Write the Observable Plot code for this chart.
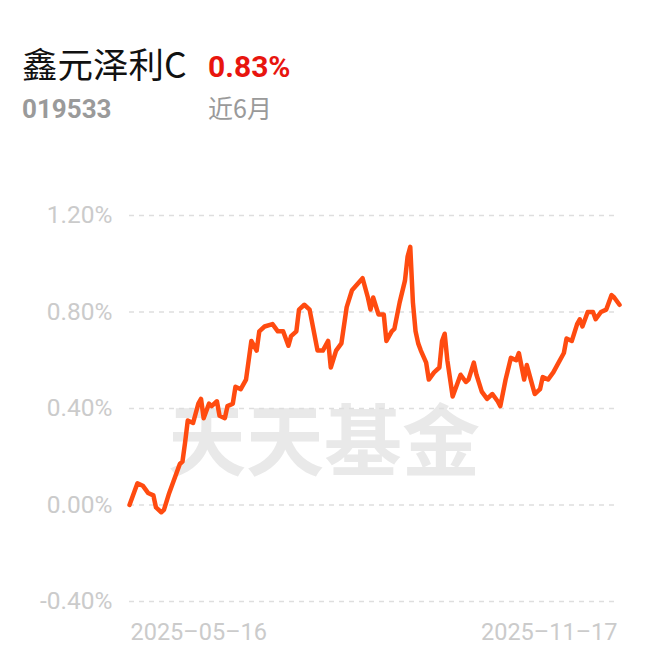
<!DOCTYPE html>
<html>
<head>
<meta charset="utf-8">
<script src="https://cdn.jsdelivr.net/npm/d3@7"></script>
<script src="https://cdn.jsdelivr.net/npm/@observablehq/plot@0.6"></script>
<style>
  html, body { margin: 0; padding: 0; background: #fff; }
  #page { position: relative; width: 652px; height: 657px; overflow: hidden; }
  #bg, #header { position: absolute; left: 0; top: 0; }
  #chart { position: absolute; left: 0; top: 180px; }
</style>
</head>
<body>
<div id="page">
  <svg id="bg" width="652" height="657">
    <text x="324" y="470" text-anchor="middle" font-family="'Noto Sans CJK SC', sans-serif" font-weight="700" font-size="78" fill="#e9e9e9">天天基金</text>
  </svg>
  <svg id="header" width="652" height="140">
    <text x="22" y="78" font-family="'Noto Sans CJK SC', Roboto, sans-serif" font-size="35.5" fill="#111">鑫元泽利C</text>
    <text x="208" y="77" font-family="Roboto, sans-serif" font-weight="700" font-size="30" fill="#e8150e">0.83%</text>
    <text x="22" y="118" font-family="Roboto, sans-serif" font-weight="700" font-size="26" fill="#9a9a9a">019533</text>
    <text x="208" y="118" font-family="'Noto Sans CJK SC', Roboto, sans-serif" font-size="25" fill="#9a9a9a">近6月</text>
  </svg>
  <div id="chart"></div>
</div>
<script>
const dates = [
  "2025-05-16","2025-05-19","2025-05-21","2025-05-23","2025-05-25","2025-05-26","2025-05-28","2025-05-29","2025-05-31",
  "2025-06-02","2025-06-04","2025-06-05","2025-06-06","2025-06-07","2025-06-09","2025-06-11","2025-06-12","2025-06-13",
  "2025-06-15","2025-06-16","2025-06-18","2025-06-19","2025-06-21","2025-06-22","2025-06-24","2025-06-25","2025-06-27",
  "2025-06-29","2025-07-01","2025-07-03","2025-07-04","2025-07-06","2025-07-09","2025-07-11","2025-07-13","2025-07-15",
  "2025-07-16","2025-07-18","2025-07-19","2025-07-21","2025-07-23","2025-07-26","2025-07-28","2025-07-30","2025-07-31",
  "2025-08-02","2025-08-04","2025-08-06","2025-08-08","2025-08-12","2025-08-14","2025-08-15","2025-08-16","2025-08-18",
  "2025-08-20","2025-08-21","2025-08-23","2025-08-24","2025-08-26","2025-08-28","2025-08-29","2025-08-30","2025-08-31",
  "2025-09-01","2025-09-02","2025-09-03","2025-09-05","2025-09-06","2025-09-08","2025-09-10","2025-09-11","2025-09-12",
  "2025-09-13","2025-09-15","2025-09-17","2025-09-18","2025-09-20","2025-09-21","2025-09-23","2025-09-24","2025-09-26",
  "2025-09-28","2025-09-30","2025-10-02","2025-10-03","2025-10-05","2025-10-07","2025-10-09","2025-10-10","2025-10-12",
  "2025-10-13","2025-10-15","2025-10-16","2025-10-18","2025-10-19","2025-10-21","2025-10-23","2025-10-25","2025-10-27",
  "2025-10-28","2025-10-30","2025-11-01","2025-11-02","2025-11-03","2025-11-05","2025-11-07","2025-11-08","2025-11-10",
  "2025-11-12","2025-11-14","2025-11-15","2025-11-17"
];
const returns = [
  0.00, 0.09, 0.08, 0.05, 0.04, -0.01, -0.03, -0.02, 0.05,
  0.11, 0.17, 0.18, 0.26, 0.35, 0.34, 0.42, 0.44, 0.36,
  0.42, 0.41, 0.43, 0.37, 0.36, 0.41, 0.42, 0.49, 0.48,
  0.52, 0.68, 0.64, 0.72, 0.74, 0.75, 0.72, 0.72, 0.66,
  0.70, 0.72, 0.81, 0.83, 0.81, 0.64, 0.64, 0.68, 0.57,
  0.64, 0.67, 0.82, 0.89, 0.94, 0.86, 0.81, 0.86, 0.79,
  0.79, 0.68, 0.72, 0.73, 0.84, 0.93, 1.03, 1.07, 0.84,
  0.72, 0.67, 0.64, 0.59, 0.52, 0.55, 0.57, 0.68, 0.71,
  0.60, 0.45, 0.51, 0.54, 0.51, 0.52, 0.59, 0.54, 0.47,
  0.44, 0.46, 0.43, 0.41, 0.52, 0.61, 0.60, 0.63, 0.52,
  0.58, 0.50, 0.46, 0.48, 0.53, 0.52, 0.55, 0.59, 0.63,
  0.69, 0.68, 0.75, 0.77, 0.74, 0.80, 0.80, 0.77, 0.80,
  0.81, 0.87, 0.86, 0.83
];
const yTicks = [-0.4, 0, 0.4, 0.8, 1.2];
const xTickLabels = ["2025-05-16", "2025-11-17"];

const parse = d3.utcParse("%Y-%m-%d");
const data = dates.map((d, i) => ({date: parse(d), value: returns[i]}));
const fmtY = v => (v < 0 ? "-" : "") + Math.abs(v).toFixed(2) + "%";
const fmtX = s => s.replace(/-/g, "\u2013");

const chart = Plot.plot({
  width: 652,
  height: 477,
  marginLeft: 129,
  marginRight: 33,
  marginTop: 35,
  marginBottom: 56,
  style: {fontFamily: "Roboto, 'Noto Sans CJK SC', sans-serif", background: "transparent", overflow: "visible"},
  x: {type: "utc", domain: [parse(xTickLabels[0]), parse(xTickLabels[1])], axis: null},
  y: {domain: [-0.4, 1.2], axis: null},
  marks: [
    Plot.ruleY(yTicks, {stroke: "#dedede", strokeWidth: 1.5, strokeDasharray: "5,5"}),
    Plot.text(yTicks, {y: d => d, text: fmtY, frameAnchor: "left", textAnchor: "end", dx: -17, fontSize: 24.5, fill: "#cbcbcb"}),
    Plot.text([xTickLabels[0]], {x: d => parse(d), text: fmtX, frameAnchor: "bottom", textAnchor: "start", lineAnchor: "middle", dy: 31, dx: 1, fontSize: 23.5, fill: "#cbcbcb"}),
    Plot.text([xTickLabels[1]], {x: d => parse(d), text: fmtX, frameAnchor: "bottom", textAnchor: "end", lineAnchor: "middle", dy: 31, dx: -2, fontSize: 23.5, fill: "#cbcbcb"}),
    Plot.lineY(data, {x: "date", y: "value", stroke: "#ff4b10", strokeWidth: 4.5, strokeLinejoin: "round", strokeLinecap: "round"})
  ]
});
document.getElementById("chart").appendChild(chart);
</script>
</body>
</html>
